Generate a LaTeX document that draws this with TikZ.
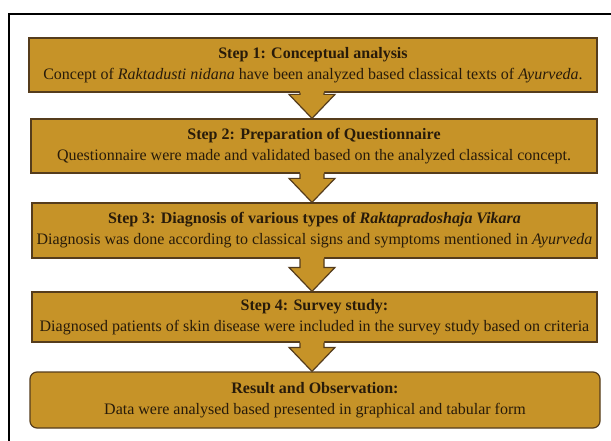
\documentclass[tikz,border=0pt]{standalone}
\usepackage{fontspec}
\setmainfont{Liberation Serif}
\usetikzlibrary{calc}
\definecolor{gold}{RGB}{198,147,40}
\definecolor{edge}{RGB}{85,60,28}
\definecolor{ink}{RGB}{40,27,10}
\tikzset{
  stepbox/.style={draw=edge, line width=1.2pt, fill=gold, text=ink, align=center, inner sep=0pt},
  arrfill/.style={fill=gold},
  arredge/.style={draw=edge, line width=1.2pt, line join=miter},
}
\newcommand{\blockarr}[2]{%
  \path let \p1=(#1.south), \p2=(#2.north) in
    coordinate (s1) at (0,\y1) coordinate (s2) at (0,\y2);
  \fill[arrfill] let \p1=(s1), \p2=(s2) in
    (300pt,{\y1+1.5pt}) -- (300pt,{\y2+24pt}) -- (289pt,{\y2+24pt}) -- (312pt,\y2)
    -- (335pt,{\y2+24pt}) -- (324pt,{\y2+24pt}) -- (324pt,{\y1+1.5pt}) -- cycle;
  \draw[arredge] let \p1=(s1), \p2=(s2) in
    (300pt,\y1) -- (300pt,{\y2+24pt}) -- (289pt,{\y2+24pt}) -- (312pt,\y2)
    -- (335pt,{\y2+24pt}) -- (324pt,{\y2+24pt}) -- (324pt,\y1);
}
\begin{document}
\begin{tikzpicture}[x=1pt,y=-1pt,font=\fontsize{16}{21}\selectfont]
\useasboundingbox (0,0) rectangle (611,441);
\fill[white] (0,0) rectangle (611,441);
\draw[black, line width=1.2pt] (9,450) -- (9,14) -- (620,14);
\node[stepbox, minimum width=568pt, minimum height=54pt] (b1) at (313,65)
  {\textbf{Step 1: Conceptual analysis}\\Concept of \textit{Raktadusti nidana} have been analyzed based classical texts of \textit{Ayurveda}.};
\node[stepbox, minimum width=566pt, minimum height=54pt] (b2) at (314,146)
  {\textbf{Step 2: Preparation of Questionnaire}\\Questionnaire were made and validated based on the analyzed classical concept.};
\node[stepbox, minimum width=565pt, minimum height=55pt] (b3) at (314.5,230.5)
  {\textbf{Step 3: Diagnosis of various types of \textit{Raktapradoshaja Vikara}}\\Diagnosis was done according to classical signs and symptoms mentioned in \textit{Ayurveda}};
\node[stepbox, minimum width=565pt, minimum height=50pt] (b4) at (314.5,317)
  {\textbf{Step 4: Survey study:}\\Diagnosed patients of skin disease were included in the survey study based on criteria};
\node[stepbox, rounded corners=7pt, minimum width=570pt, minimum height=56pt] (b5) at (315,400)
  {\textbf{Result and Observation:}\\Data were analysed based presented in graphical and tabular form};
\blockarr{b1}{b2}
\blockarr{b2}{b3}
\blockarr{b3}{b4}
\blockarr{b4}{b5}
\end{tikzpicture}
\end{document}
